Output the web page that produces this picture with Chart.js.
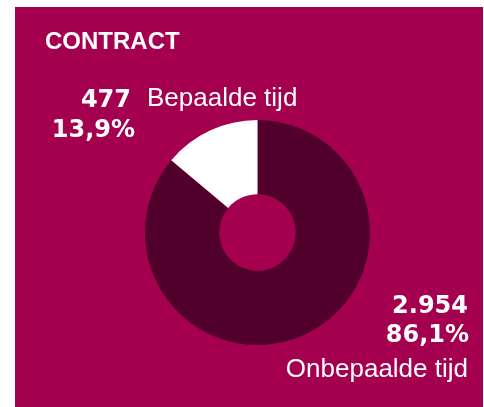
<!DOCTYPE html>
<html>
<head>
<meta charset="utf-8">
<script src="https://cdn.jsdelivr.net/npm/chart.js@4"></script>
<style>
  html, body { margin: 0; padding: 0; background: #ffffff; }
  canvas { display: block; }
</style>
</head>
<body>
<canvas id="contractChart" width="484" height="407"></canvas>
<script>
// contract types (order: clockwise from the top)
var categories = ["Onbepaalde tijd", "Bepaalde tijd"];
var counts = [2954, 477];
var sliceColors = ["#51002b", "#ffffff"];
var titleText = "CONTRACT";

var panelColor = "#a5004f";

function fmtCount(n) {
  return String(n).replace(/\B(?=(\d{3})+(?!\d))/g, ".");
}
function fmtPct(n, total) {
  return (n / total * 100).toFixed(1).replace(".", ",") + "%";
}

var panelPlugin = {
  id: "panel",
  beforeDraw: function (chart) {
    var c = chart.ctx;
    c.save();
    c.fillStyle = panelColor;
    c.fillRect(15, 7, 468, 400);
    c.restore();
  },
  afterDraw: function (chart) {
    var c = chart.ctx;
    var total = counts.reduce(function (a, b) { return a + b; }, 0);
    var bold = "bold 24px 'DejaVu Sans'";
    var regular = "26px 'Liberation Sans'";
    c.save();
    c.fillStyle = "#ffffff";
    c.textBaseline = "alphabetic";

    // title
    c.font = "bold 24px 'Liberation Sans'";
    c.textAlign = "left";
    c.fillText(titleText, 45, 49);

    // Bepaalde tijd (upper left)
    c.font = bold;
    c.textAlign = "right";
    c.fillText(fmtCount(counts[1]), 131, 107);
    c.fillText(fmtPct(counts[1], total), 135, 137);
    c.font = regular;
    c.textAlign = "left";
    c.fillText(categories[1], 147, 106);

    // Onbepaalde tijd (lower right)
    c.textAlign = "right";
    c.font = bold;
    c.fillText(fmtCount(counts[0]), 468, 313);
    c.fillText(fmtPct(counts[0], total), 469, 342);
    c.font = regular;
    c.fillText(categories[0], 468, 377);
    c.restore();
  }
};

var ctx = document.getElementById("contractChart").getContext("2d");
var contractChart = new Chart(ctx, {
  type: "doughnut",
  data: {
    labels: categories,
    datasets: [
      {
        data: counts,
        backgroundColor: sliceColors,
        borderWidth: 0,
      },
    ],
  },
  options: {
    responsive: false,
    animation: false,
    devicePixelRatio: 1,
    cutout: "34%",
    rotation: 0,
    layout: {
      padding: { left: 145, right: 114, top: 120, bottom: 62 },
    },
    plugins: {
      legend: { display: false },
      tooltip: { enabled: false },
    },
  },
  plugins: [panelPlugin],
});
</script>
</body>
</html>
